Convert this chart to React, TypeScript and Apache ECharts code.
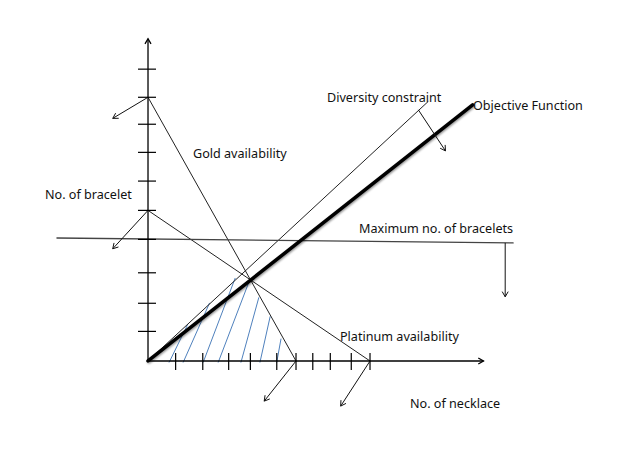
import React, { useEffect, useRef } from "react";
import * as echarts from "echarts";

// Data in chart units (x: no. of necklace, y: no. of bracelet)
const X_TICKS = [1.12, 2.22, 3.27, 4.15, 5.22, 6.0, 6.68, 7.39, 8.24, 9.0];
const Y_TICKS = [1.01, 1.97, 3.01, 4.15, 5.14, 6.14, 7.12, 8.08, 9.0, 9.96];

const AXIS_LINES = [
  [0, 0, 13.6, 0],
  [0, 0, 0, 11.0],
];

const GOLD = [0, 9.0, 6.0, 0];
const PLATINUM = [0, 5.14, 9.0, 0];
const DIVERSITY = [0, 0, 11.35, 8.85];
const MAX_BRACELETS = [-3.69, 4.2, 14.8, 4.03];
const OBJECTIVE = [0, 0, 13.16, 8.74];

const DIRECTION_ARROWS = [
  [0, 9.0, -1.43, 8.28],
  [0, 5.14, -1.43, 3.83],
  [6.0, 0, 4.71, -1.37],
  [9.0, 0, 7.81, -1.54],
  [14.48, 4.03, 14.48, 2.19],
  [10.96, 8.57, 12.06, 7.17],
];

const HATCH = [
  [0.86, -0.04, 1.61, 1.25],
  [1.43, -0.04, 2.49, 1.97],
  [2.24, -0.04, 3.53, 2.82],
  [2.85, -0.04, 4.12, 2.76],
  [3.77, -0.04, 4.49, 2.16],
  [4.54, -0.04, 4.95, 1.51],
  [5.22, -0.04, 5.39, 0.75],
];

const LABELS = [
  { text: "Gold availability", x: 193, y: 153 },
  { text: "No. of bracelet", x: 45, y: 194 },
  { text: "Diversity constraint", x: 327, y: 97 },
  { text: "Objective Function", x: 473, y: 105 },
  { text: "Maximum no. of bracelets", x: 359, y: 228 },
  { text: "Platinum availability", x: 340, y: 336 },
  { text: "No. of necklace", x: 410, y: 403 },
];

const FONT = "'Noto Sans', sans-serif";

function segRender(stroke: string, lineWidth: number, shadow?: boolean) {
  return (params: any, api: any) => {
    const p1 = api.coord([api.value(0), api.value(1)]);
    const p2 = api.coord([api.value(2), api.value(3)]);
    const style: any = { stroke, lineWidth, lineCap: "round" };
    if (shadow) {
      style.shadowColor = "rgba(0,0,0,0.45)";
      style.shadowBlur = 2;
      style.shadowOffsetX = 1;
      style.shadowOffsetY = 1;
    }
    return {
      type: "line",
      shape: { x1: p1[0], y1: p1[1], x2: p2[0], y2: p2[1] },
      style,
    };
  };
}

function arrowRender(stroke: string, lineWidth: number) {
  return (params: any, api: any) => {
    const p1 = api.coord([api.value(0), api.value(1)]);
    const p2 = api.coord([api.value(2), api.value(3)]);
    const ang = Math.atan2(p2[1] - p1[1], p2[0] - p1[0]);
    const L = 6;
    const a = Math.PI / 6;
    const h1 = [p2[0] - L * Math.cos(ang - a), p2[1] - L * Math.sin(ang - a)];
    const h2 = [p2[0] - L * Math.cos(ang + a), p2[1] - L * Math.sin(ang + a)];
    return {
      type: "group",
      children: [
        {
          type: "line",
          shape: { x1: p1[0], y1: p1[1], x2: p2[0], y2: p2[1] },
          style: { stroke, lineWidth },
        },
        {
          type: "polyline",
          shape: { points: [h1, p2, h2] },
          style: { stroke, lineWidth, fill: "none" },
        },
      ],
    };
  };
}

export default function App() {
  const ref = useRef<HTMLDivElement>(null);
  useEffect(() => {
    if (!ref.current) return;
    const chart = echarts.init(ref.current, null, { renderer: "svg" });
    chart.setOption({
      animation: false,
      backgroundColor: "#ffffff",
      grid: { left: 0, right: 0, top: 0, bottom: 0 },
      xAxis: { type: "value", min: -6, max: 19.58, show: false },
      yAxis: { type: "value", min: -3.106, max: 12.32, show: false },
      graphic: LABELS.map((l) => ({
        type: "text",
        x: l.x,
        y: l.y,
        z: 10,
        style: {
          text: l.text,
          fontFamily: FONT,
          fontSize: 12.6,
          fill: "#111111",
          textAlign: "left",
          verticalAlign: "middle",
          textVerticalAlign: "middle",
        },
      })),
      series: [
        {
          type: "custom",
          name: "hatch",
          coordinateSystem: "cartesian2d",
          renderItem: segRender("#4f81bd", 1),
          data: HATCH,
          silent: true,
        },
        {
          type: "custom",
          name: "constraints",
          coordinateSystem: "cartesian2d",
          renderItem: segRender("#222222", 1),
          data: [GOLD, PLATINUM, DIVERSITY],
          silent: true,
        },
        {
          type: "custom",
          name: "max",
          coordinateSystem: "cartesian2d",
          renderItem: segRender("#444444", 1.4),
          data: [MAX_BRACELETS],
          silent: true,
        },
        {
          type: "custom",
          name: "objective",
          coordinateSystem: "cartesian2d",
          renderItem: segRender("#000000", 3.5, true),
          data: [OBJECTIVE],
          silent: true,
        },
        {
          type: "custom",
          name: "axes",
          coordinateSystem: "cartesian2d",
          renderItem: arrowRender("#000000", 1.3),
          data: AXIS_LINES,
          silent: true,
        },
        {
          type: "custom",
          name: "arrows",
          coordinateSystem: "cartesian2d",
          renderItem: arrowRender("#111111", 1),
          data: DIRECTION_ARROWS,
          silent: true,
        },
        {
          type: "custom",
          name: "xticks",
          coordinateSystem: "cartesian2d",
          renderItem: (params: any, api: any) => {
            const p = api.coord([api.value(0), api.value(1)]);
            return {
              type: "line",
              shape: { x1: p[0], y1: p[1] - 8, x2: p[0], y2: p[1] + 9 },
              style: { stroke: "#000", lineWidth: 1.2 },
            };
          },
          data: X_TICKS.map((v) => [v, 0]),
          silent: true,
        },
        {
          type: "custom",
          name: "yticks",
          coordinateSystem: "cartesian2d",
          renderItem: (params: any, api: any) => {
            const p = api.coord([api.value(0), api.value(1)]);
            return {
              type: "line",
              shape: { x1: p[0] - 10, y1: p[1], x2: p[0] + 8, y2: p[1] },
              style: { stroke: "#000", lineWidth: 1.2 },
            };
          },
          data: Y_TICKS.map((v) => [0, v]),
          silent: true,
        },
      ],
    });
    return () => chart.dispose();
  }, []);
  return (
    <div
      ref={ref}
      style={{ position: "absolute", left: 0, top: 0, width: 631, height: 452 }}
    />
  );
}
